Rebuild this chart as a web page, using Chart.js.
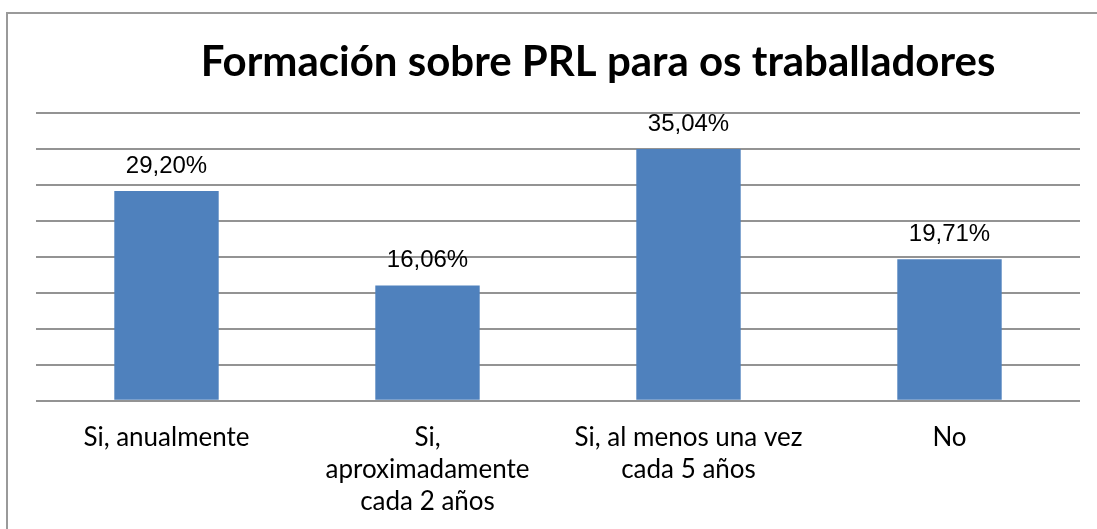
<!DOCTYPE html>
<html>
<head>
<meta charset="utf-8">
<script src="https://cdn.jsdelivr.net/npm/chart.js@4/dist/chart.umd.min.js"></script>
<style>
  html, body { margin: 0; padding: 0; background: #fff; overflow: hidden; }
  #frame {
    position: absolute; left: 6px; top: 12px;
    width: 1180px; height: 560px;
    border: 2px solid #9a9a9a;
  }
</style>
</head>
<body>
<div id="frame"><canvas id="chart"></canvas></div>
<script>
//Data
const categories = [
    'Si, anualmente',
    ['Si,', 'aproximadamente', 'cada 2 años'],
    ['Si, al menos una vez', 'cada 5 años'],
    'No'
];
const percentages = [29.20, 16.06, 35.04, 19.71];
const valueLabels = ['29,20%', '16,06%', '35,04%', '19,71%'];
const chartTitle = 'Formación sobre PRL para os traballadores';

const ctx = document.getElementById('chart');

//Plugin that writes the percentage above each bar
const barLabels = {
    id: 'barLabels',
    afterDatasetsDraw(chart) {
        const c = chart.ctx;
        const meta = chart.getDatasetMeta(0);
        c.save();
        c.font = '24px "Liberation Sans", Arial, sans-serif';
        c.fillStyle = '#000';
        c.textAlign = 'center';
        c.textBaseline = 'bottom';
        meta.data.forEach((bar, i) => {
            c.fillText(valueLabels[i], bar.x, bar.y - 13);
        });
        c.restore();
    }
};

const config = {
    type: 'bar',
    data: {
        labels: categories,
        datasets: [{
            data: percentages,
            backgroundColor: '#4f81bd',
            barPercentage: 0.4,
            categoryPercentage: 1
        }]
    },
    options: {
        responsive: true,
        maintainAspectRatio: false,
        animation: false,
        layout: {
            padding: { left: 28, right: 28, top: 0, bottom: 36 }
        },
        plugins: {
            legend: { display: false },
            tooltip: { enabled: false },
            title: {
                display: true,
                text: chartTitle,
                color: '#000',
                font: { family: 'Lato', size: 42, weight: 'bold', lineHeight: 1.2 },
                padding: { top: 23, bottom: 26 }
            }
        },
        scales: {
            x: {
                grid: { display: false, drawTicks: false },
                border: { display: false },
                ticks: {
                    color: '#000',
                    padding: 21,
                    maxRotation: 0,
                    autoSkip: false,
                    font: { family: 'Lato', size: 26, lineHeight: 1.22 }
                }
            },
            y: {
                position: 'right',
                min: 0,
                max: 40,
                afterFit: scale => { scale.width = 80; }, //empty space right of the plot
                ticks: { display: false, stepSize: 5 },
                border: { display: false },
                grid: { color: '#939393', lineWidth: 2, drawTicks: false }
            }
        }
    },
    plugins: [barLabels]
};

const chart = new Chart(ctx, config);
</script>
</body>
</html>
